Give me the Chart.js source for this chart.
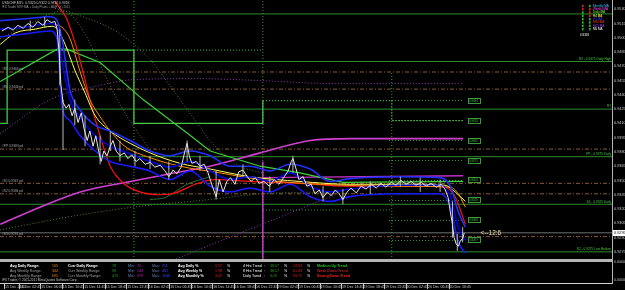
<!DOCTYPE html>
<html>
<head>
<meta charset="utf-8">
<script src="https://cdn.jsdelivr.net/npm/chart.js@4.4.1/dist/chart.umd.min.js"></script>
<style>
  html, body { margin: 0; padding: 0; background: #000; }
</style>
</head>
<body>
<canvas id="mt4" width="625" height="290"></canvas>
<script>
// USDCHF M15 window, MT4 look: price, MTF moving averages, pivots, ADR panel

// x values are trading hours from 15 Dec 00:00 (weekend left out)
const tickHours = [0, 2.75, 6.75, 10.75, 14.75, 18.75, 22.75, 26.75, 30.75, 34.75, 38.75,
  42.75, 46.75, 50.75, 54.75, 58.75, 62.75, 66.75, 70.75, 74.75, 78.75, 82.75];
const tickLabels = ['15 Dec 2011', '15 Dec 02:45', '15 Dec 06:45', '15 Dec 10:45', '15 Dec 14:45',
  '15 Dec 18:45', '15 Dec 22:45', '16 Dec 02:45', '16 Dec 06:45', '16 Dec 10:45', '16 Dec 14:45',
  '16 Dec 18:45', '16 Dec 22:45', '19 Dec 02:45', '19 Dec 06:45', '19 Dec 10:45', '19 Dec 14:45',
  '19 Dec 18:45', '19 Dec 22:45', '20 Dec 02:45', '20 Dec 06:45', '20 Dec 10:45'];
const priceTicks = [0.9530, 0.9515, 0.9500, 0.9485, 0.9470, 0.9455, 0.9440, 0.9425, 0.9410,
  0.9395, 0.9380, 0.9365, 0.9350, 0.9335, 0.9320, 0.9305, 0.9290, 0.9275];

// close prices
const priceHours = [
  -0.6, 0.6, 1.5, 2.4, 3.4, 4.3, 5.2, 6.1, 7.1, 7.8,
  8.6, 9.3, 9.7, 10.1, 10.4, 10.8, 11.4, 11.9, 12.5, 13.0,
  13.6, 14.2, 14.7, 15.3, 15.8, 16.4, 16.9, 17.5, 17.9, 18.4,
  19.0, 19.6, 20.1, 20.7, 21.4, 22.2, 22.9, 23.6, 24.4, 25.1,
  26.1, 27.0, 27.9, 28.9, 29.8, 30.5, 31.3, 32.0, 32.8, 33.5,
  33.9, 34.3, 34.8, 35.6, 36.3, 37.1, 37.8, 38.6, 39.3, 39.9,
  40.6, 41.3, 42.0, 42.8, 43.5, 44.3, 45.1, 45.8, 46.6, 47.3,
  48.2, 49.2, 50.1, 51.0, 52.0, 52.7, 53.3, 53.6, 54.2, 54.7,
  55.5, 56.2, 57.0, 57.7, 58.5, 59.2, 60.0, 60.7, 61.5, 62.2,
  62.9, 63.7, 64.4, 65.4, 66.3, 67.2, 68.2, 69.1, 70.0, 70.9,
  71.9, 72.8, 73.7, 74.7, 75.6, 76.5, 77.5, 78.4, 79.3, 80.3,
  81.2, 81.9, 82.5, 82.9, 83.3, 83.6, 84.0, 84.4, 84.8, 85.2,
  85.5];
const priceClose = [
  0.9507, 0.9511, 0.9508, 0.9513, 0.9510, 0.9515, 0.9511, 0.9517, 0.9513, 0.9519,
  0.9516, 0.9517, 0.9509, 0.9483, 0.9451, 0.9432, 0.9426, 0.9430, 0.9418, 0.9426,
  0.9411, 0.9421, 0.9405, 0.9392, 0.9402, 0.9386, 0.9397, 0.9379, 0.9370, 0.9381,
  0.9376, 0.9386, 0.9392, 0.9381, 0.9376, 0.9379, 0.9373, 0.9377, 0.9370, 0.9373,
  0.9367, 0.9369, 0.9364, 0.9366, 0.9360, 0.9354, 0.9361, 0.9357, 0.9364, 0.9381,
  0.9389, 0.9376, 0.9368, 0.9370, 0.9365, 0.9367, 0.9358, 0.9344, 0.9333, 0.9351,
  0.9338, 0.9349, 0.9353, 0.9346, 0.9359, 0.9361, 0.9354, 0.9349, 0.9353, 0.9347,
  0.9349, 0.9344, 0.9351, 0.9346, 0.9354, 0.9360, 0.9370, 0.9373, 0.9362, 0.9351,
  0.9354, 0.9344, 0.9346, 0.9336, 0.9340, 0.9332, 0.9338, 0.9334, 0.9340, 0.9336,
  0.9330, 0.9338, 0.9342, 0.9337, 0.9344, 0.9341, 0.9346, 0.9342, 0.9347, 0.9343,
  0.9348, 0.9345, 0.9350, 0.9346, 0.9349, 0.9345, 0.9348, 0.9344, 0.9347, 0.9343,
  0.9346, 0.9341, 0.9332, 0.9317, 0.9304, 0.9290, 0.9283, 0.9281, 0.9287, 0.9289,
  0.9295];

// candle ranges (the long ones)
const wickHours = [4.7, 7.4, 10.2, 10.8, 13.0, 14.9, 17.7, 19.6, 21.4, 24.2, 27.0, 30.5, 33.9, 36.3,
  39.3, 44.3, 49.3, 53.6, 59.2, 62.9, 68.0, 73.6, 77.3, 81.0, 83.3, 84.2, 85.2];
const wickLow = [0.9507, 0.9511, 0.9450, 0.9382, 0.9408, 0.9386, 0.9367, 0.9381, 0.9370, 0.9365,
  0.9362, 0.9351, 0.9370, 0.9360, 0.9330, 0.9354, 0.9338, 0.9358, 0.9328, 0.9325,
  0.9336, 0.9343, 0.9338, 0.9338, 0.9290, 0.9276, 0.9285];
const wickHigh = [0.9518, 0.9522, 0.9509, 0.9435, 0.9435, 0.9418, 0.9397, 0.9402, 0.9392, 0.9381,
  0.9376, 0.9370, 0.9392, 0.9376, 0.9360, 0.9367, 0.9354, 0.9376, 0.9344, 0.9341,
  0.9349, 0.9354, 0.9353, 0.9351, 0.9328, 0.9294, 0.9301];

// blue envelope lines
const blueHours = [-0.9, 3.7, 8.4, 9.7, 10.6, 12.1, 14.0, 16.8, 19.6, 23.3, 27.0, 30.7, 34.5,
  38.2, 41.9, 45.6, 49.3, 53.1, 56.8, 60.5, 64.2, 73.6, 81.0, 82.9, 84.4, 85.7];
const blueUpper = [0.9518, 0.9520, 0.9522, 0.9518, 0.9499, 0.9445, 0.9424, 0.9408, 0.9402, 0.9392,
  0.9381, 0.9376, 0.9381, 0.9376, 0.9365, 0.9365, 0.9360, 0.9367, 0.9362, 0.9349,
  0.9352, 0.9354, 0.9353, 0.9344, 0.9317, 0.9301];
const blueMid = [0.9509, 0.9511, 0.9515, 0.9511, 0.9477, 0.9435, 0.9416, 0.9397, 0.9386, 0.9378,
  0.9370, 0.9364, 0.9370, 0.9360, 0.9351, 0.9354, 0.9349, 0.9358, 0.9344, 0.9338,
  0.9341, 0.9345, 0.9345, 0.9333, 0.9301, 0.9287];
const blueLower = [0.9501, 0.9504, 0.9507, 0.9499, 0.9429, 0.9413, 0.9397, 0.9381, 0.9370, 0.9365,
  0.9360, 0.9351, 0.9360, 0.9344, 0.9338, 0.9342, 0.9338, 0.9346, 0.9333, 0.9328,
  0.9333, 0.9336, 0.9336, 0.9322, 0.9285, 0.9274];

// moving averages
const yellowHours = [-0.9, 1.9, 5.6, 8.75, 9.7, 11.2, 13.0, 14.9, 16.8, 19.6, 23.3, 27.0, 32.6,
  38.2, 45.6, 54.9, 64.2, 73.6, 81.9, 83.8, 85.7];
const yellowMa = [0.9493, 0.9505, 0.9509, 0.9512, 0.9509, 0.9493, 0.9466, 0.9442, 0.9418, 0.9402,
  0.9389, 0.9379, 0.9368, 0.9362, 0.9354, 0.9349, 0.9346, 0.9346, 0.9345, 0.9338, 0.9328];
const orangeHours = [9.3, 10.6, 12.1, 14.0, 15.8, 17.7, 19.6, 22.3, 27.0, 32.6, 40.0, 47.5, 58.7,
  73.6, 82.9, 84.4, 85.7];
const orangeMa = [0.9514, 0.9511, 0.9499, 0.9464, 0.9435, 0.9417, 0.9402, 0.9386, 0.9374, 0.9365,
  0.9358, 0.9351, 0.9346, 0.9344, 0.9343, 0.9336, 0.9322];
const redHours = [7.8, 9.3, 10.6, 11.5, 12.5, 13.4, 14.9, 15.8, 17.7, 19.6, 22.3, 25.1, 28.9, 31.7,
  35.4, 39.1, 45.6, 54.9, 64.2, 73.6, 81.9, 83.8, 85.7];
const redMa = [0.9547, 0.9538, 0.9528, 0.9520, 0.9504, 0.9488, 0.9456, 0.9435, 0.9397, 0.9365,
  0.9346, 0.9338, 0.9335, 0.9337, 0.9346, 0.9351, 0.9349, 0.9347, 0.9344, 0.9344,
  0.9343, 0.9333, 0.9304];
const limeHours = [-0.9, 9.7, 11.5, 17.7, 25.7, 33.9, 38.2, 47.5, 54.9, 62.9, 85.3];
const limeMa = [0.9454, 0.9488, 0.9488, 0.9474, 0.9435, 0.9400, 0.9381, 0.9365, 0.9358, 0.9348, 0.9349];
const magentaHours = [-0.9, 6.5, 14.0, 23.3, 30.7, 38.2, 47.5, 56.8, 64.2, 77.3, 85.3];
const magentaMa = [0.9304, 0.9322, 0.9338, 0.9349, 0.9357, 0.9365, 0.9379, 0.9392, 0.9394, 0.9394, 0.9394];
const magentaFlatHours = [47.9, 85.3];
const magentaFlat = [0.9353, 0.9355];
const purpleDotHours = [-0.9, 8.4, 17.7, 23.8, 36.3, 47.5, 60.5, 85.3];
const purpleDot = [0.9399, 0.9435, 0.9450, 0.9456, 0.9457, 0.9455, 0.9452, 0.9452];
const magentaDiagHours = [29.8, 61.5];
const magentaDiag = [0.9263, 0.9335];

// dotted deviation arcs
const envAHours = [-0.9, 4.7, 10.8, 14.5, 20.9, 27.0, 31.3, 35.4, 39.1, 43.8, 47.9];
const envA = [0.9499, 0.9515, 0.9528, 0.9522, 0.9506, 0.9477, 0.9445, 0.9413, 0.9386, 0.9365, 0.9358];
const envBHours = [9.3, 12.1, 14.9, 17.7, 20.9, 25.1, 28.9, 33.5];
const envB = [0.9531, 0.9525, 0.9504, 0.9472, 0.9435, 0.9397, 0.9370, 0.9354];
const envCHours = [-0.9, 12.1, 23.8, 38.2, 47.5, 60.5];
const envC = [0.9298, 0.9312, 0.9322, 0.9330, 0.9336, 0.9338];
const darkGreenHours = [27.0, 29.8, 33.9, 38.2];
const darkGreen = [0.9330, 0.9332, 0.9346, 0.9354];

// levels
const greenLevels = [0.9525, 0.9475, 0.9425, 0.9375, 0.9325, 0.9275];
const greenLevelNames = ['', 'R2 - 0.9475 Daily High', 'R1', 'PP - 0.9375 Daily', 'S1 - 0.9325 Daily', 'S2 - 0.9275 Low Broken'];
const pivotLevels = [0.9464, 0.9446, 0.9383, 0.9347, 0.9336, 0.9291];
const pivotNames = ['#R2 0.9464 pd', '#R1 0.9446 pd', '#PP 0.9383 pd', '#S1 0.9347 pd', '#S2 0.9336 pd', '#S3 0.9291 pd'];
const fibLevels = [0.9434, 0.9413, 0.9392, 0.9371, 0.9350, 0.9329, 0.9308, 0.9287];
const stepHours = [-0.9, 0.4, 24, 48, 72, 85.3];
const stepLevels = [0.9410, 0.9487, 0.9410, 0.9434, 0.9413, 0.9413];
const separatorHours = [24, 48, 72];
const separatorTop = [0.95386, 0.95386, 0.9463];
const bidPrice = 0.9295;

const Y_MIN = 0.92675, Y_MAX = 0.95386, X_MIN = -0.93, X_MAX = 113;
const FONT = '"Liberation Sans", Arial, sans-serif';

const pts = (hs, ps) => hs.map((h, i) => ({ x: h, y: ps[i] }));
const flat = (p, h0, h1) => [{ x: h0, y: p }, { x: h1, y: p }];
function line(data, color, width, dash, extra) {
  return Object.assign({
    type: 'line', data, borderColor: color, borderWidth: width, borderDash: dash || [],
    pointRadius: 0, fill: false, tension: 0
  }, extra || {});
}
const smooth = { cubicInterpolationMode: 'monotone' };

const wickData = [];
wickHours.forEach((h, i) => {
  wickData.push({ x: h, y: wickLow[i] }, { x: h, y: wickHigh[i] }, { x: h, y: null });
});

const datasets = [
  line(pts(priceHours, priceClose), '#e6e6e6', 1),
  line(wickData, '#b8b8b8', 1),
  line(pts(blueHours, blueUpper), '#2030ff', 1.6, [], smooth),
  line(pts(blueHours, blueMid), '#0000d8', 1.6, [], smooth),
  line(pts(blueHours, blueLower), '#1818ff', 1.6, [], smooth),
  line(pts(yellowHours, yellowMa), '#ffff60', 1, [], smooth),
  line(pts(orangeHours, orangeMa), '#ff8c00', 1, [], smooth),
  line(pts(redHours, redMa), '#ff1010', 1.2, [], smooth),
  line(pts(limeHours, limeMa), '#3cd23c', 1.2),
  line(pts(magentaHours, magentaMa), '#d040d0', 1.6, [], smooth),
  line(pts(magentaFlatHours, magentaFlat), '#c030c0', 1.4),
  line(pts(envAHours, envA), '#5a7a3a', 1, [1, 2], smooth),
  line(pts(envBHours, envB), '#5a7a3a', 1, [1, 2], smooth),
  line(pts(envCHours, envC), '#5a7a3a', 1, [1, 2], smooth),
  line(pts(darkGreenHours, darkGreen), '#2e6e2e', 1, [], smooth),
  line(pts(purpleDotHours, purpleDot), '#9040b0', 1, [1, 2], smooth),
  line(pts(magentaDiagHours, magentaDiag), '#a030c0', 1, [1, 2]),
  line([{ x: 48, y: 0.9370 }, { x: 48, y: Y_MIN }], '#d040d0', 1.4),
  line(pts(stepHours, stepLevels), '#46c846', 1.3, [], {
    stepped: true,
    segment: { borderDash: ctx => ctx.p0.parsed.x >= 48 ? [1, 2] : undefined }
  }),
  line(flat(0.9487, 24, 48), '#46c846', 1, [1, 2]),
  line(flat(0.9319, 48, 72), '#46a046', 1, [1, 2]),
  ...fibLevels.map(p => line(flat(p, 71.5, 85.3), '#3c9a3c', 1, [1, 2])),
  line(flat(bidPrice, X_MIN, X_MAX), '#707070', 1),
  ...greenLevels.map(p => line(flat(p, X_MIN, X_MAX), '#2e8c2e', 1)),
  ...pivotLevels.map(p => line(flat(p, X_MIN, X_MAX), '#8a5a30', 1, [4, 2, 1, 2])),
  ...separatorHours.map((h, i) => line([{ x: h, y: separatorTop[i] }, { x: h, y: Y_MIN }], '#3c9a3c', 1, [1, 2]))
];

function txt(c, s, x, y, color, size, bold, align) {
  c.font = (bold ? 'bold ' : '') + size + 'px ' + FONT;
  c.fillStyle = color;
  c.textAlign = align || 'left';
  c.textBaseline = 'middle';
  c.fillText(s, x, y);
}

const overlay = {
  id: 'overlay',
  beforeDraw(chart) {
    const c = chart.ctx;
    c.save();
    c.fillStyle = '#000';
    c.fillRect(0, 0, chart.width, chart.height);
    c.restore();
  },
  afterDraw(chart) {
    const c = chart.ctx, xs = chart.scales.x, ys = chart.scales.y, a = chart.chartArea;
    c.save();

    // header
    txt(c, 'USDCHF,M15  0.9320 0.9322 0.9316 0.9318', 2, 3, '#c8c8c8', 3.4);
    txt(c, 'IFX Trader MTF MA + Daily Pivots + ADR  (c) 2011', 2, 7, '#9a9a9a', 3);

    // pivot names on the left
    pivotLevels.forEach((p, i) => txt(c, pivotNames[i], 2, ys.getPixelForValue(p) - 2.5, '#a8a8a8', 3.2));
    // level names on the right
    greenLevels.forEach((p, i) => {
      if (greenLevelNames[i]) txt(c, greenLevelNames[i], a.right - 1, ys.getPixelForValue(p) - 2.5, '#46c846', 3.2, false, 'right');
    });

    // fib boxes at the end of today's levels
    const bx0 = xs.getPixelForValue(86.1), bx1 = xs.getPixelForValue(88.3);
    fibLevels.forEach(p => {
      const y = Math.round(ys.getPixelForValue(p));
      c.fillStyle = '#000';
      c.fillRect(bx0, y - 2.5, bx1 - bx0, 5);
      c.strokeStyle = '#3c9a3c';
      c.lineWidth = 1;
      c.strokeRect(Math.round(bx0) + 0.5, y - 2.5, Math.round(bx1 - bx0), 5);
      txt(c, p.toFixed(4), (bx0 + bx1) / 2, y, '#46c846', 2.8, false, 'center');
    });

    // candle timer
    txt(c, '<--12:6', xs.getPixelForValue(88.5), ys.getPixelForValue(bidPrice), '#eee0a0', 6.5);

    // MTF legend top right
    const names = ['Monthly MA', 'Weekly MA', 'Daily MA', 'H4 MA', 'H1 MA', 'M30 MA', 'M15 MA', 'M5 MA'];
    const cols = ['#40c0ff', '#ff50ff', '#80ff40', '#ffff40', '#3030ff', '#ff3030', '#a040ff', '#ffffff'];
    const arrowA = ['#e02020', '#e02020', '#20c020', '#20c020', '#20c020', '#20c020', '#20c020', '#20c020'];
    const arrowB = ['#20c020', '#e02020', '#e02020', '#e02020', '#20c020', '#20c020', '#20c020', '#20c020'];
    names.forEach((n, i) => {
      const y = 6 + i * 3.3;
      c.fillStyle = arrowA[i]; c.fillRect(582, y - 1.2, 1.6, 2.4);
      c.fillStyle = arrowB[i]; c.fillRect(589, y - 1.2, 1.6, 2.4);
      txt(c, n, 593, y, cols[i], 3);
    });
    txt(c, '0.9318', 580, 35, '#ffffff', 3);

    // axis frame
    c.fillStyle = '#b4b4b4';
    c.fillRect(0, a.bottom, a.right, 3);
    c.fillRect(a.right, 0, 1, 284);
    c.fillStyle = '#d0d0d0';
    c.fillRect(0, 283, a.right, 1);

    // current price box
    const by = Math.round(ys.getPixelForValue(bidPrice));
    c.fillStyle = '#ffffff';
    c.fillRect(a.right + 1, by - 3, 14, 6);
    txt(c, bidPrice.toFixed(4), a.right + 2, by, '#000000', 3.8);

    // info window
    const r = [266, 271, 276];
    const rowLab = ['Avg Daily Range:', 'Avg Weekly Range:', 'Avg Monthly Range:'];
    const rowCur = ['Curr Daily Range:', 'Curr Weekly Range:', 'Curr Monthly Range:'];
    const avgVal = ['105', '344', '695'], curVal = ['78', '98', '475'];
    const minVal = ['70', '143', '379'], maxVal = ['211', '481', '1646'];
    const pctLab = ['Avg Daily %', 'Avg Weekly %', 'Avg Monthly %'], pctVal = ['0.57', '1.98', '3.59'];
    const trLab = ['4 Hrs Trend', '8 Hrs Trend', 'Daily Trend'];
    const upVal = ['38.07', '38.57', '6.29'], dnVal = ['13.93', '61.43', '93.71'];
    const trName = ['Medium Up Trend', 'Weak Down Trend', 'Strong Down Trend'];
    const trCol = ['#20c020', '#b02020', '#ff2020'];
    r.forEach((y, i) => {
      const head = i === 0;
      txt(c, rowLab[i], 10, y, head ? '#ffffff' : '#a0a0a0', 3.6, head);
      txt(c, avgVal[i], 52, y, '#e08020', 3.6);
      txt(c, rowCur[i], 68, y, head ? '#ffffff' : '#a0a0a0', 3.6, head);
      txt(c, curVal[i], 112, y, '#20a020', 3.6);
      txt(c, 'Min:', 128, y, '#6080c0', 3.6);
      txt(c, minVal[i], 137, y, '#c020c0', 3.6);
      txt(c, 'Max:', 152, y, '#6080c0', 3.6);
      txt(c, maxVal[i], 162, y, '#4040ff', 3.6);
      txt(c, pctLab[i], 178, y, '#ffffff', 3.6, true);
      txt(c, pctVal[i], 215, y, '#e02020', 3.6);
      txt(c, '%', 227, y, '#ffffff', 3.6);
      txt(c, trLab[i], 243, y, '#ffffff', 3.6);
      txt(c, ':', 264, y, '#ffffff', 3.6);
      txt(c, upVal[i], 270, y, '#20a020', 3.6);
      txt(c, '%', 284, y, '#ffffff', 3.6);
      txt(c, dnVal[i], 293, y, '#e02020', 3.6);
      txt(c, '%', 307, y, '#ffffff', 3.6);
      txt(c, trName[i], 317, y, trCol[i], 3.6, true);
    });
    txt(c, 'IFX Trader, \u00a9 2001-2011 MetaQuotes Software Corp.', 2, 280.5, '#c0c0c0', 3.2);
    txt(c, '0.0000', a.right + 2, 262, '#c0c0c0', 3.6);
    txt(c, '0.0000', a.right + 2, 280, '#c0c0c0', 3.6);

    // date tick marks
    c.fillStyle = '#c8c8c8';
    tickHours.forEach(h => c.fillRect(Math.round(xs.getPixelForValue(h)) - 1, 284, 1, 5));
    c.restore();
  }
};

new Chart(document.getElementById('mt4').getContext('2d'), {
  type: 'line',
  data: { datasets },
  options: {
    responsive: false,
    animation: false,
    events: [],
    layout: { autoPadding: false, padding: { top: 1, left: 0, right: 0, bottom: 0 } },
    plugins: { legend: { display: false }, tooltip: { enabled: false } },
    scales: {
      x: {
        type: 'linear', min: X_MIN, max: X_MAX,
        afterBuildTicks: s => { s.ticks = tickHours.map(v => ({ value: v })); },
        afterFit: s => { s.height = 31; s.paddingLeft = 0; s.paddingRight = 0; },
        grid: { display: false, drawTicks: true, tickLength: 26 },
        border: { display: false },
        ticks: {
          autoSkip: false, maxRotation: 0, minRotation: 0, align: 'start', padding: 0,
          color: '#c8c8c8', font: { family: FONT, size: 3.6 },
          callback: (v, i) => tickLabels[i]
        }
      },
      y: {
        type: 'linear', position: 'right', min: Y_MIN, max: Y_MAX,
        afterBuildTicks: s => { s.ticks = priceTicks.map(v => ({ value: v })); },
        afterFit: s => { s.width = 13; s.paddingTop = 0; s.paddingBottom = 0; },
        grid: { display: false, drawTicks: false },
        border: { display: false },
        ticks: {
          autoSkip: false, padding: 2, color: '#c8c8c8', font: { family: FONT, size: 3.8 },
          callback: v => v.toFixed(4)
        }
      }
    }
  },
  plugins: [overlay]
});
</script>
</body>
</html>
